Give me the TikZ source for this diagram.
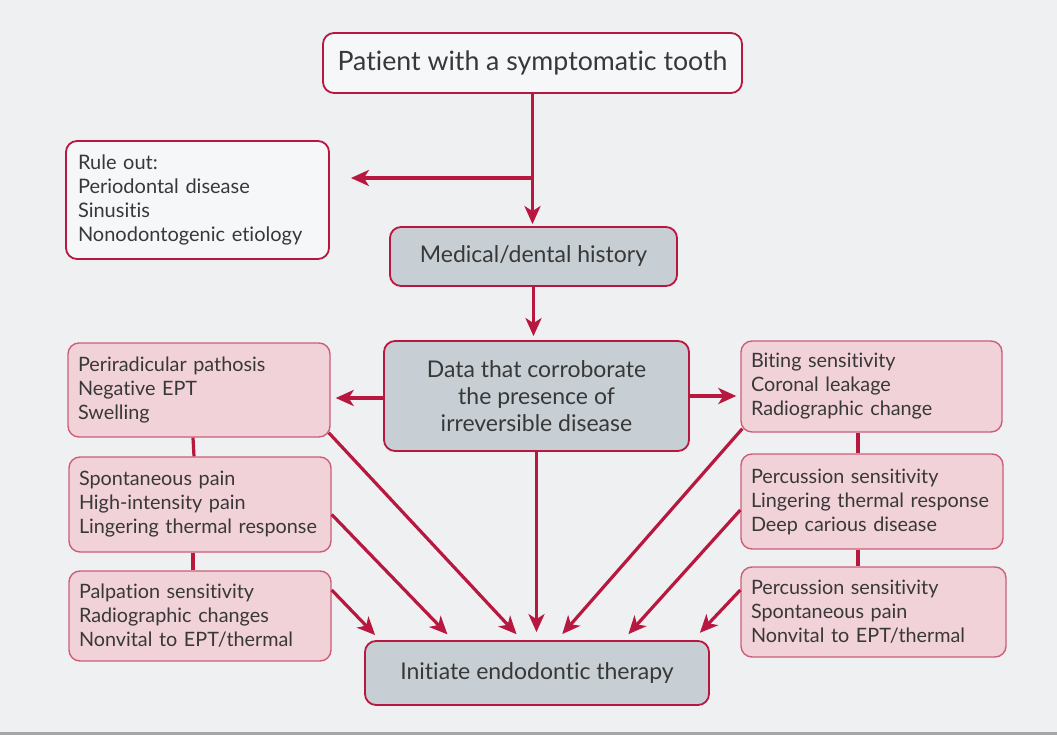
\documentclass[tikz,border=0pt]{standalone}
\usepackage{fontspec}
\setmainfont{Lato}[Ligatures=NoCommon]
\usetikzlibrary{arrows.meta}
\definecolor{crim}{HTML}{B8173F}
\definecolor{pinkfill}{HTML}{F1D2D8}
\definecolor{greyfill}{HTML}{C7CFD4}
\definecolor{paper}{HTML}{EEF0F2}
\definecolor{ink}{HTML}{383838}
\begin{document}
\begin{tikzpicture}[x=1pt,y=-1pt,>={Stealth[length=18pt,width=16pt,inset=5pt]},
  box/.style={draw=crim,line width=1.8pt,rounded corners=11pt,text=ink,font=\fontsize{23}{27}\selectfont,align=center,inner sep=0pt},
  startbox/.style={box,fill=white!45!paper},
  greybox/.style={box,fill=greyfill},
  listbox/.style={box,fill=pinkfill,draw=crim!70,line width=1.4pt,font=\fontsize{19.8}{24}\selectfont,align=left,text width=#1,inner xsep=10pt},
  flow/.style={->,draw=crim,line width=3.2pt},
  link/.style={draw=crim,line width=3.2pt}]
\useasboundingbox (0,0) rectangle (1057,735);
\fill[paper] (0,0) rectangle (1057,735);
\fill[black!35] (0,732) rectangle (1057,735);
% top of the chart
\node[startbox,minimum width=419,minimum height=60,font=\fontsize{26.7}{30}\selectfont] (patient) at (532.5,63) {Patient with a symptomatic tooth};
\node[startbox,font=\fontsize{20}{24}\selectfont,align=left,text width=239,inner xsep=12pt,minimum height=118] (ruleout) at (197.5,200)
  {Rule out:\\Periodontal disease\\Sinusitis\\Nonodontogenic etiology};
\node[greybox,minimum width=287,minimum height=59] (history) at (533.5,256.5) {Medical/dental history};
\node[greybox,minimum width=305,minimum height=110] (data) at (536.5,396)
  {Data that corroborate\\the presence of\\irreversible disease};
% left column
\node[listbox=242,minimum height=94] (L1) at (199,390) {Periradicular pathosis\\Negative EPT\\Swelling};
\node[listbox=242,minimum height=95] (L2) at (200,504.5) {Spontaneous pain\\High-intensity pain\\Lingering thermal response};
\node[listbox=242,minimum height=90] (L3) at (200,616) {Palpation sensitivity\\Radiographic changes\\Nonvital to EPT/thermal};
% right column
\node[listbox=241,minimum height=91] (R1) at (871.5,386.5) {Biting sensitivity\\Coronal leakage\\Radiographic change};
\node[listbox=242,minimum height=95] (R2) at (872,501.5) {Percussion sensitivity\\Lingering thermal response\\Deep carious disease};
\node[listbox=245,minimum height=90] (R3) at (873.5,612) {Percussion sensitivity\\Spontaneous pain\\Nonvital to EPT/thermal};
\node[greybox,minimum width=344,minimum height=64] (therapy) at (537,673) {Initiate endodontic therapy};
% connectors
\coordinate (split) at (532.5,178);
\draw[flow,shorten >=2pt] (patient.south) -- (patient.south |- history.north);
\draw[flow,shorten >=21pt] (split) -- (split -| ruleout.east);
\draw[flow,shorten >=4pt] (history.south) -- (history.south |- data.north);
\draw[flow,shorten >=5pt] ([yshift=-2pt]data.west) -- ([yshift=-2pt]data.west -| L1.east);
\draw[flow,shorten >=4pt] (data.east) -- (data.east -| R1.west);
\draw[link] ([xshift=-6pt]L1.south) -- ([xshift=-6pt]L2.north);
\draw[link] ([xshift=-7pt]L2.south) -- ([xshift=-7pt]L3.north);
\draw[link] ([xshift=-13.5pt]R1.south) -- ([xshift=-14pt]R2.north);
\draw[link] ([xshift=-14pt]R2.south) -- ([xshift=-15.5pt]R3.north);
\draw[flow,shorten >=8pt] ([shift={(-2pt,5pt)}]L1.south east) -- ([xshift=-15pt]therapy.north);
\draw[flow,shorten >=8pt] ([yshift=-10pt]L2.east) -- ([xshift=-84pt]therapy.north);
\draw[flow,shorten >=7pt] ([yshift=26pt]L3.east) -- ([xshift=-157pt]therapy.north);
\draw[flow,shorten >=8pt] (data.south) -- (data.south |- therapy.north);
\draw[flow,shorten >=8pt] ([shift={(2pt,4pt)}]R1.south west) -- ([xshift=20pt]therapy.north);
\draw[flow,shorten >=8pt] ([yshift=-8.5pt]R2.west) -- ([xshift=86pt]therapy.north);
\draw[flow,shorten >=10pt] ([yshift=22pt]R3.west) -- ([xshift=156pt]therapy.north);
\end{tikzpicture}
\end{document}
